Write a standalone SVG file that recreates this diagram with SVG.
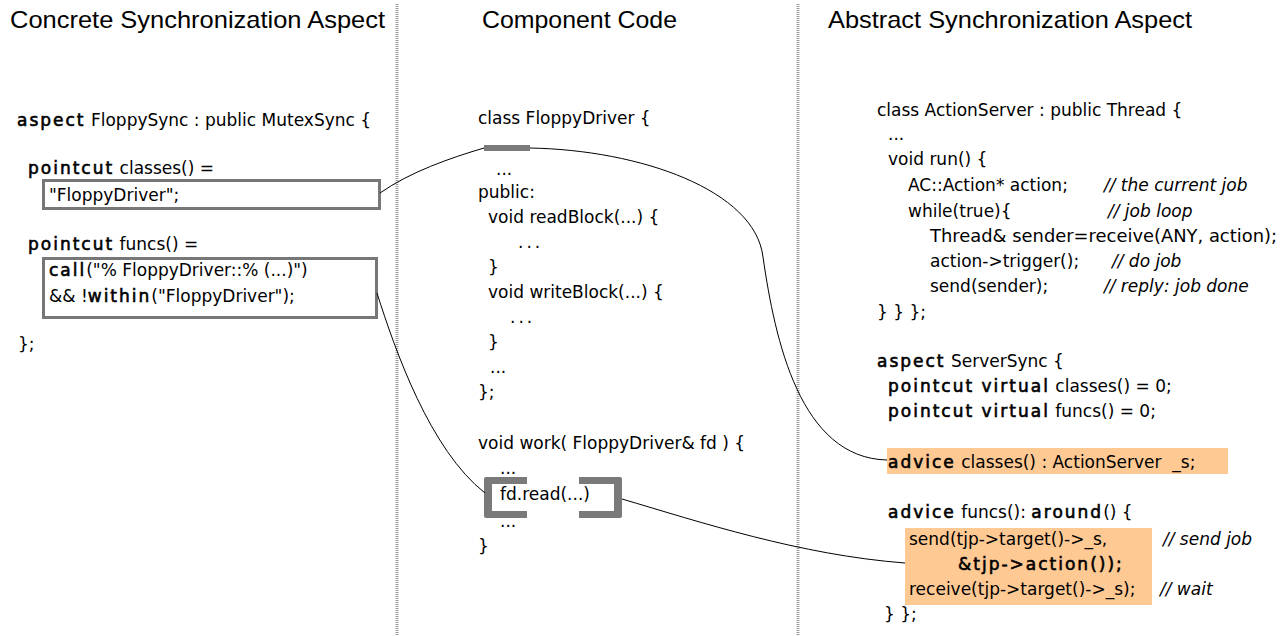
<svg xmlns="http://www.w3.org/2000/svg" width="1286" height="636" viewBox="0 0 1286 636">
<style>
.h{font-family:"Liberation Sans",Arial,sans-serif;font-size:24px;fill:#000}
.c{font-family:"DejaVu Sans",sans-serif;font-size:17px;fill:#000;white-space:pre}
.k{letter-spacing:2px;stroke:#000;stroke-width:0.6px}
.i{font-style:italic}
.div{stroke:#999;stroke-width:3;stroke-dasharray:1 1;fill:none}
.box{fill:none;stroke:#777;stroke-width:3}
.hl{fill:#ffc994}
.conn{fill:none;stroke:#000;stroke-width:1}
.gr{fill:#7a7a7a}
</style>
<rect width="1286" height="636" fill="#fff"/>
<g id="dividers">
<line class="div" x1="397" y1="4" x2="397" y2="636"/>
<line class="div" x1="798" y1="4" x2="798" y2="636"/>
</g>
<g id="headers">
<text class="h" x="10" y="28" textLength="375" lengthAdjust="spacingAndGlyphs">Concrete Synchronization Aspect</text>
<text class="h" x="482" y="28" textLength="195" lengthAdjust="spacingAndGlyphs">Component Code</text>
<text class="h" x="828" y="28" textLength="364" lengthAdjust="spacingAndGlyphs">Abstract Synchronization Aspect</text>
</g>
<g id="concrete-aspect">
<text class="c" x="17" y="126"><tspan class="k">aspect</tspan> FloppySync : public MutexSync {</text>
<text class="c" x="28" y="174"><tspan class="k">pointcut</tspan> classes() =</text>
<text class="c" x="28" y="250"><tspan class="k">pointcut</tspan> funcs() =</text>
<text class="c" x="18" y="350">};</text>
</g>
<g id="classes-box">
<rect class="box" x="43.5" y="180.5" width="336" height="28"/>
<text class="c" x="49" y="201">"FloppyDriver";</text>
</g>
<g id="funcs-box">
<rect class="box" x="43.5" y="258.5" width="333" height="59"/>
<text class="c" x="49" y="276"><tspan class="k">call</tspan>("% FloppyDriver::% (...)")</text>
<text class="c" x="49" y="302">&amp;&amp; !<tspan class="k">within</tspan>("FloppyDriver");</text>
</g>
<g id="component-code">
<text class="c" x="478" y="124">class FloppyDriver {</text>
<text class="c" x="496" y="175">...</text>
<text class="c" x="478" y="198">public:</text>
<text class="c" x="488" y="223">void readBlock(...) {</text>
<text class="c" x="518" y="248" letter-spacing="3">...</text>
<text class="c" x="488" y="273">}</text>
<text class="c" x="488" y="298">void writeBlock(...) {</text>
<text class="c" x="510" y="323" letter-spacing="3">...</text>
<text class="c" x="488" y="348">}</text>
<text class="c" x="490" y="373">...</text>
<text class="c" x="478" y="398">};</text>
<text class="c" x="478" y="449">void work( FloppyDriver&amp; fd ) {</text>
<text class="c" x="500" y="474">...</text>
<text class="c" x="500" y="527">...</text>
<text class="c" x="478" y="552">}</text>
</g>
<g id="class-marker">
<rect class="gr" x="484" y="145" width="46" height="6"/>
</g>
<g id="call-marker">
<path class="gr" d="M486,477 H527 V484 H492 V511 H527 V518 H486 Q484,518 484,516 V479 Q484,477 486,477 Z"/>
<path class="gr" d="M579,477 H620 Q622,477 622,479 V516 Q622,518 620,518 H579 V511 H614 V484 H579 Z"/>
<text class="c" x="500" y="500">fd.read(...)</text>
</g>
<g id="abstract-aspect">
<text class="c" x="877" y="116">class ActionServer : public Thread {</text>
<text class="c" x="888" y="140">...</text>
<text class="c" x="888" y="165">void run() {</text>
<text class="c" x="908" y="191">AC::Action* action;</text>
<text class="c i" x="1104" y="191">// the current job</text>
<text class="c" x="908" y="217">while(true){</text>
<text class="c i" x="1108" y="217">// job loop</text>
<text class="c" x="930" y="242" textLength="347" lengthAdjust="spacingAndGlyphs">Thread&amp; sender=receive(ANY, action);</text>
<text class="c" x="930" y="267">action-&gt;trigger();</text>
<text class="c i" x="1112" y="267">// do job</text>
<text class="c" x="930" y="292">send(sender);</text>
<text class="c i" x="1104" y="292">// reply: job done</text>
<text class="c" x="877" y="318">} } };</text>
<text class="c" x="877" y="367"><tspan class="k">aspect</tspan> ServerSync {</text>
<text class="c" x="888" y="392"><tspan class="k">pointcut virtual</tspan> classes() = 0;</text>
<text class="c" x="888" y="417"><tspan class="k">pointcut virtual</tspan> funcs() = 0;</text>
<text class="c" x="888" y="518"><tspan class="k">advice</tspan> funcs(): <tspan class="k">around</tspan>() {</text>
<text class="c" x="884" y="620">} };</text>
</g>
<g id="advice-classes">
<rect class="hl" x="887" y="448" width="341" height="26"/>
<text class="c" x="888" y="468"><tspan class="k">advice</tspan> classes() : ActionServer  _s;</text>
</g>
<g id="advice-around">
<rect class="hl" x="905" y="528" width="247" height="77"/>
<text class="c" x="909" y="545">send(tjp-&gt;target()-&gt;_s,</text>
<text class="c i" x="1163" y="545">// send job</text>
<text class="c k" x="958" y="570">&amp;tjp-&gt;action());</text>
<text class="c" x="909" y="595">receive(tjp-&gt;target()-&gt;_s);</text>
<text class="c i" x="1160" y="595">// wait</text>
</g>
<g id="connectors">
<path class="conn" d="M380,193 C410,172 450,158 484,148"/>
<path class="conn" d="M530,148 C640,150 755,190 763,257 C775,340 800,458 887,460"/>
<path class="conn" d="M377,293 C395,350 430,450 485,493"/>
<path class="conn" d="M622,499 C700,522 800,555 905,563"/>
</g>
</svg>
